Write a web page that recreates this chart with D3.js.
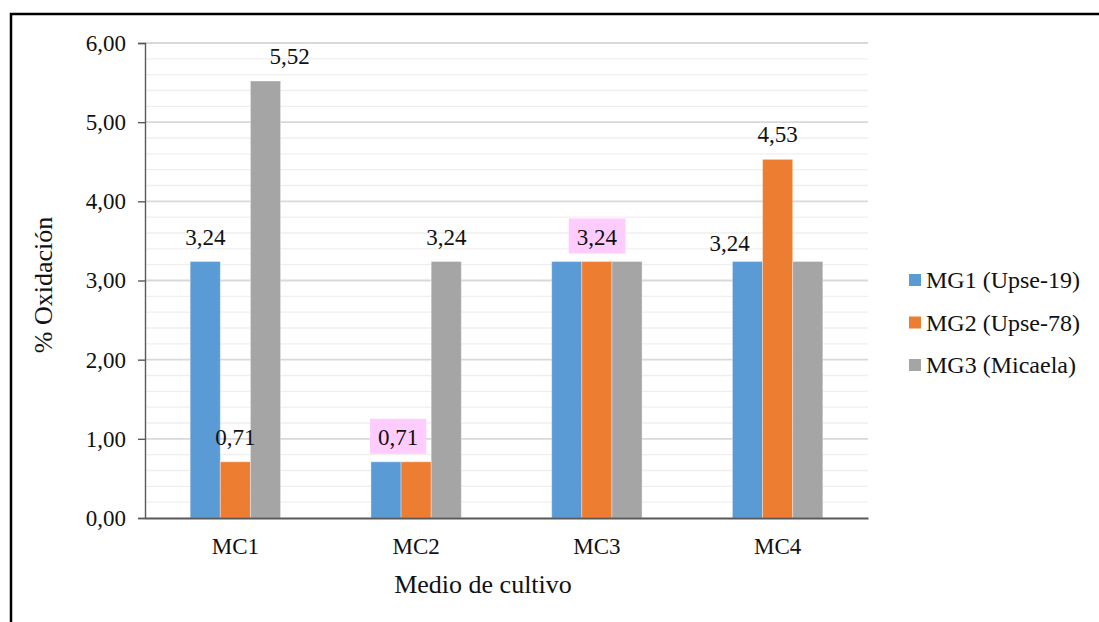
<!DOCTYPE html>
<html>
<head>
<meta charset="utf-8">
<script src="https://cdn.jsdelivr.net/npm/d3@7"></script>
<style>
  html, body { margin: 0; padding: 0; background: #fff; }
  svg { display: block; }
</style>
</head>
<body>
<svg id="chart" width="1099" height="622"></svg>
<script>
// Culture media (x categories) and genotype series
const categories = ["MC1", "MC2", "MC3", "MC4"];
const seriesNames = ["MG1 (Upse-19)", "MG2 (Upse-78)", "MG3 (Micaela)"];
const mg1 = [3.24, 0.71, 3.24, 3.24];
const mg2 = [0.71, 0.71, 3.24, 4.53];
const mg3 = [5.52, 3.24, 3.24, 3.24];
const yTicks = [0, 1, 2, 3, 4, 5, 6];
const seriesValues = [mg1, mg2, mg3];
const colors = ["#5b9bd5", "#ed7d31", "#a5a5a5"];

const FONT = "'Liberation Serif'";
const W = 1099, H = 622;
const margin = { left: 145, right: W - 868, top: 43, bottom: H - 518 };

const svg = d3.select("#chart");

// Apply the serif face directly to each text element
function serif(sel, size) {
  return sel.style("font-family", FONT).style("font-size", size + "px").style("fill", "#111");
}

const esFmt = d3.formatLocale({ decimal: ",", thousands: ".", grouping: [3], currency: ["", ""] }).format(".2f");

// Outer frame of the figure
svg.append("rect")
  .attr("x", 11).attr("y", 14)
  .attr("width", W + 20).attr("height", H + 20)
  .attr("fill", "none").attr("stroke", "#000").attr("stroke-width", 2.5);

const x0 = d3.scaleBand().domain(categories).range([margin.left, W - margin.right]).padding(0);
const x1 = d3.scaleBand().domain(d3.range(seriesNames.length))
  .range([x0.bandwidth() * 0.25, x0.bandwidth() * 0.75]).padding(0);
const y = d3.scaleLinear().domain([0, 6]).range([H - margin.bottom, margin.top]);

// Minor gridlines every 0.2
const minor = d3.range(0, 6.0001, 0.2).filter(v => Math.abs(v - Math.round(v)) > 1e-6);
svg.append("g").selectAll("line").data(minor).join("line")
  .attr("x1", margin.left).attr("x2", W - margin.right)
  .attr("y1", d => y(d)).attr("y2", d => y(d))
  .attr("stroke", "#efefef").attr("stroke-width", 1.4);

// Major gridlines
svg.append("g").selectAll("line").data(yTicks.slice(1)).join("line")
  .attr("x1", margin.left).attr("x2", W - margin.right)
  .attr("y1", d => y(d)).attr("y2", d => y(d))
  .attr("stroke", "#d9d9d9").attr("stroke-width", 1.8);

// Bars
const groups = svg.append("g").selectAll("g").data(categories).join("g")
  .attr("transform", d => `translate(${x0(d)},0)`);
groups.selectAll("rect")
  .data((c, ci) => seriesValues.map((vals, si) => ({ si, v: vals[ci] })))
  .join("rect")
  .attr("x", d => x1(d.si))
  .attr("width", x1.bandwidth())
  .attr("y", d => y(d.v))
  .attr("height", d => y(0) - y(d.v))
  .attr("fill", d => colors[d.si])
  .attr("stroke", "#ffffff").attr("stroke-opacity", 0.35).attr("stroke-width", 1);

// Y axis
const yAxis = svg.append("g")
  .attr("transform", `translate(${margin.left},0)`)
  .call(d3.axisLeft(y).tickValues(yTicks).tickFormat(esFmt).tickSize(7).tickPadding(12));
yAxis.select(".domain").attr("stroke", "#595959").attr("stroke-width", 1.4);
yAxis.selectAll(".tick line").attr("stroke", "#595959").attr("stroke-width", 1.4);
serif(yAxis.selectAll(".tick text"), 23);

// X axis
const xAxis = svg.append("g")
  .attr("transform", `translate(0,${y(0)})`)
  .call(d3.axisBottom(x0).tickSize(0).tickPadding(20));
xAxis.select(".domain").attr("stroke", "#595959").attr("stroke-width", 2);
serif(xAxis.selectAll(".tick text"), 23);

// Data labels: [series, category, dx, dy, highlighted]
const labelSpecs = [
  [0, 0, 0, 0, false],
  [1, 0, 0, 0, false],
  [2, 0, 24, 0, false],
  [2, 1, 0, 0, false],
  [1, 1, -18, 0, true],
  [1, 2, 0, 0, true],
  [0, 3, -18, 6, false],
  [1, 3, 0, 0, false]
];
const labels = svg.append("g");
labelSpecs.forEach(([si, ci, dx, dy, hl]) => {
  const v = seriesValues[si][ci];
  const cx = x0(categories[ci]) + x1(si) + x1.bandwidth() / 2 + dx;
  const by = y(v) - 17 + dy;
  const t = serif(labels.append("text"), 23)
    .attr("x", cx).attr("y", by)
    .attr("text-anchor", "middle")
    .text(esFmt(v));
  if (hl) {
    const bb = t.node().getBBox();
    labels.insert("rect", () => t.node())
      .attr("x", bb.x - 8).attr("y", by - 26)
      .attr("width", bb.width + 16).attr("height", 35)
      .attr("fill", "#ffccff");
  }
});

// Axis titles
serif(svg.append("text"), 26)
  .attr("transform", "translate(43,285) rotate(-90)")
  .attr("text-anchor", "middle").attr("dominant-baseline", "central")
  .text("% Oxidación");
serif(svg.append("text"), 26)
  .attr("x", 483).attr("y", 593)
  .attr("text-anchor", "middle")
  .text("Medio de cultivo");

// Legend
const legend = svg.append("g").attr("transform", "translate(909,280)");
seriesNames.forEach((name, i) => {
  const g = legend.append("g").attr("transform", `translate(0,${i * 42.5})`);
  g.append("rect").attr("x", 0).attr("y", -6).attr("width", 12).attr("height", 12).attr("fill", colors[i]);
  serif(g.append("text"), 24).attr("x", 17).attr("y", 0).attr("dominant-baseline", "central").text(name);
});
</script>
</body>
</html>
